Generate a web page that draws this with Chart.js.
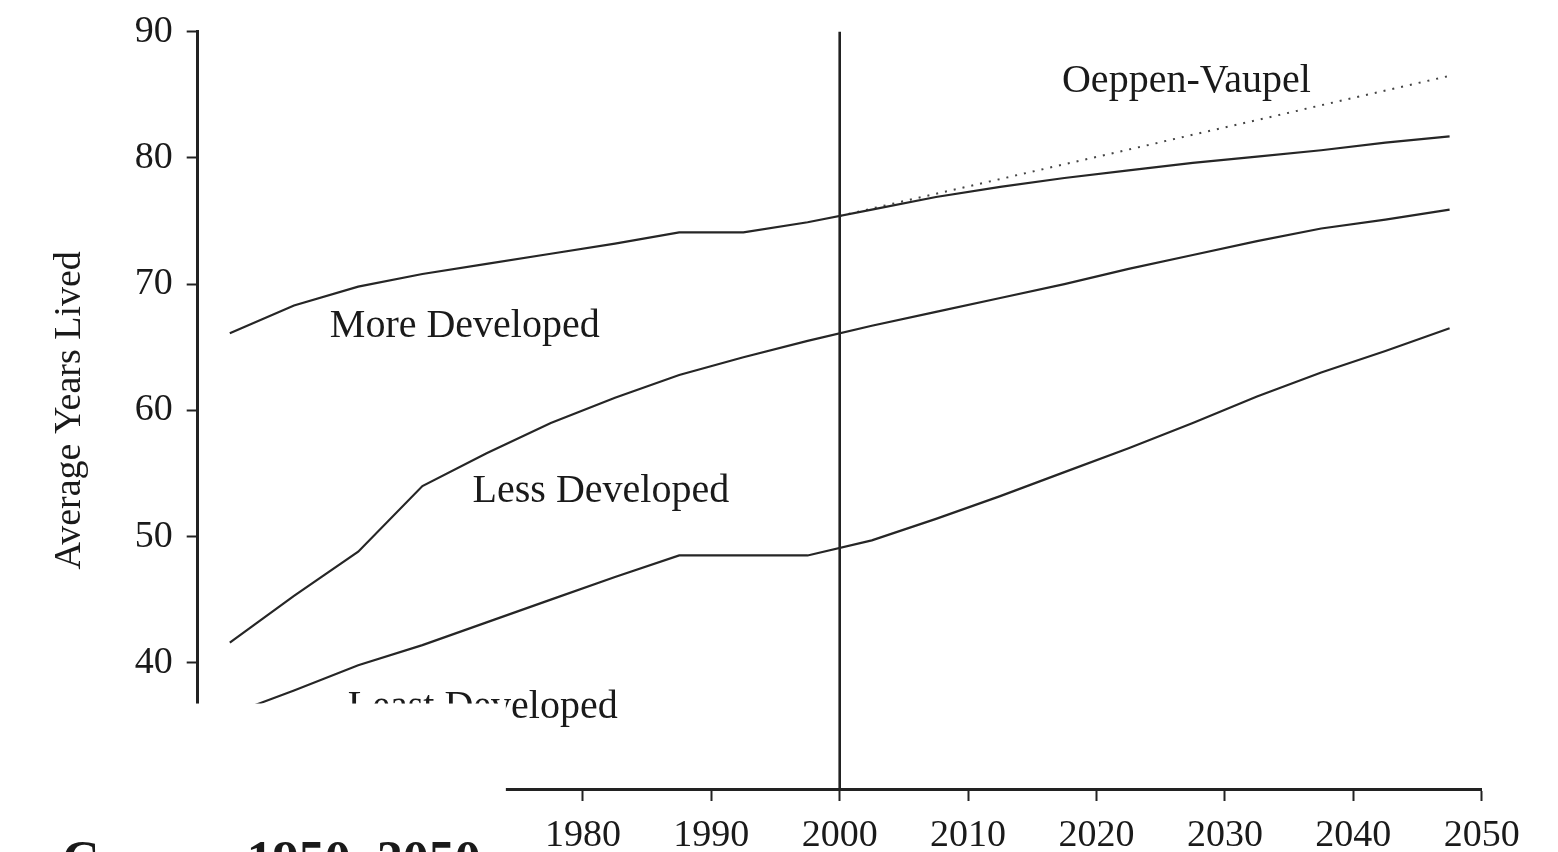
<!DOCTYPE html>
<html>
<head>
<meta charset="utf-8">
<script src="https://cdn.jsdelivr.net/npm/chart.js@4.4.1/dist/chart.umd.min.js"></script>
<style>
  html, body { margin: 0; padding: 0; background: #ffffff; }
  #wrap { width: 1558px; height: 852px; position: relative; }
  canvas { display: block; }
</style>
</head>
<body>
<div id="wrap"><canvas id="c" width="1558" height="852"></canvas></div>
<script>
// ---- Data ----
const years = [1952.5, 1957.5, 1962.5, 1967.5, 1972.5, 1977.5, 1982.5, 1987.5, 1992.5, 1997.5,
               2002.5, 2007.5, 2012.5, 2017.5, 2022.5, 2027.5, 2032.5, 2037.5, 2042.5, 2047.5];
const moreDeveloped  = [66.1, 68.3, 69.8, 70.8, 71.6, 72.4, 73.2, 74.1, 74.1, 74.9,
                        75.9, 76.9, 77.7, 78.4, 79.0, 79.6, 80.1, 80.6, 81.2, 81.7];
const lessDeveloped  = [41.6, 45.3, 48.8, 54.0, 56.6, 59.0, 61.0, 62.8, 64.2, 65.5,
                        66.7, 67.8, 68.9, 70.0, 71.2, 72.3, 73.4, 74.4, 75.1, 75.9];
const leastDeveloped = [35.9, 37.8, 39.8, 41.4, 43.2, 45.0, 46.8, 48.5, 48.5, 48.5,
                        49.7, 51.4, 53.2, 55.1, 57.0, 59.0, 61.1, 63.0, 64.7, 66.5];
const oeppenYears  = [2000, 2047.5];
const oeppenValues = [75.4, 86.5];
const dividerYear = 2000;

const xTickValues = [1980, 1990, 2000, 2010, 2020, 2030, 2040, 2050];
const yTickValues = [40, 50, 60, 70, 80, 90];

const seriesLabels = ['More Developed', 'Less Developed', 'Least Developed', 'Oeppen-Vaupel'];
const labelYears   = [1970.8, 1981.4, 1972.2, 2027.0];
const labelValues  = [65.8, 52.75, 35.6, 85.2];

const axisTitle = 'Average Years Lived';
const captionText = 'Curves, 1950\u20132050';

// ---- Build datasets ----
const toPoints = (xs, ys) => xs.map((v, i) => ({ x: v, y: ys[i] }));
const lineStyle = { borderColor: '#262626', borderWidth: 2.2, pointRadius: 0, tension: 0, fill: false };

const datasets = [
  Object.assign({ label: seriesLabels[0], data: toPoints(years, moreDeveloped) }, lineStyle),
  Object.assign({ label: seriesLabels[1], data: toPoints(years, lessDeveloped) }, lineStyle),
  Object.assign({ label: seriesLabels[2], data: toPoints(years, leastDeveloped) }, lineStyle),
  { label: seriesLabels[3], data: toPoints(oeppenYears, oeppenValues),
    borderColor: '#444', borderWidth: 2, borderDash: [2, 7], pointRadius: 0, fill: false },
  { label: 'divider', data: [{ x: dividerYear, y: 30 }, { x: dividerYear, y: 90 }],
    borderColor: '#222', borderWidth: 2.6, pointRadius: 0, fill: false }
];

const overlay = {
  id: 'overlay',
  afterDatasetsDraw(chart) {
    const { ctx, scales: { x, y } } = chart;
    ctx.save();
    ctx.font = '40px "Liberation Serif", serif';
    ctx.fillStyle = '#1a1a1a';
    ctx.textAlign = 'center';
    ctx.textBaseline = 'alphabetic';
    seriesLabels.forEach((t, i) => {
      ctx.fillText(t, x.getPixelForValue(labelYears[i]), y.getPixelForValue(labelValues[i]));
    });
    ctx.restore();
  },
  afterDraw(chart) {
    const { ctx, scales: { x, y } } = chart;
    ctx.save();
    // white paper patch of the scan (lower-left)
    const pr = x.getPixelForValue(1974);
    const pt = y.getPixelForValue(36.77);
    ctx.fillStyle = '#ffffff';
    ctx.fillRect(0, pt, pr, chart.height - pt);
    // partially visible caption line at the bottom of the scan
    ctx.font = 'bold 52px "Liberation Serif", serif';
    ctx.fillStyle = '#1a1a1a';
    ctx.textAlign = 'left';
    ctx.textBaseline = 'alphabetic';
    ctx.fillText(captionText, 62, 877);
    ctx.restore();
  }
};

Chart.defaults.font.family = '"Liberation Serif", serif';
Chart.defaults.color = '#1a1a1a';

function noPad(scale) {
  scale.paddingTop = 0; scale.paddingBottom = 0;
  scale.paddingLeft = 0; scale.paddingRight = 0;
}

new Chart(document.getElementById('c'), {
  type: 'line',
  data: { datasets },
  plugins: [overlay],
  options: {
    responsive: false,
    animation: false,
    layout: { padding: { left: 0, top: 31.6, right: 76.3, bottom: 0 } },
    plugins: { legend: { display: false }, tooltip: { enabled: false } },
    scales: {
      x: {
        type: 'linear', min: 1950, max: 2050,
        afterBuildTicks(scale) { scale.ticks = xTickValues.map(v => ({ value: v })); },
        afterFit(scale) { scale.height = 63; noPad(scale); },
        grid: { display: true, drawOnChartArea: false, drawTicks: true, tickLength: 12, tickWidth: 2, tickColor: '#222' },
        border: { display: true, color: '#222', width: 3 },
        ticks: { font: { size: 38 }, padding: 12, maxRotation: 0, autoSkip: false,
                 callback: v => String(v) }
      },
      y: {
        type: 'linear', min: 30, max: 90,
        afterBuildTicks(scale) { scale.ticks = yTickValues.map(v => ({ value: v })); },
        afterFit(scale) { scale.width = 197.7; noPad(scale); },
        grid: { display: true, drawOnChartArea: false, drawTicks: true, tickLength: 11, tickWidth: 2, tickColor: '#222' },
        border: { display: true, color: '#222', width: 3 },
        ticks: { font: { size: 38 }, padding: 14, callback: v => String(v) },
        title: { display: true, text: axisTitle, font: { size: 38 }, padding: { top: 47, bottom: 0 } }
      }
    }
  }
});
</script>
</body>
</html>
